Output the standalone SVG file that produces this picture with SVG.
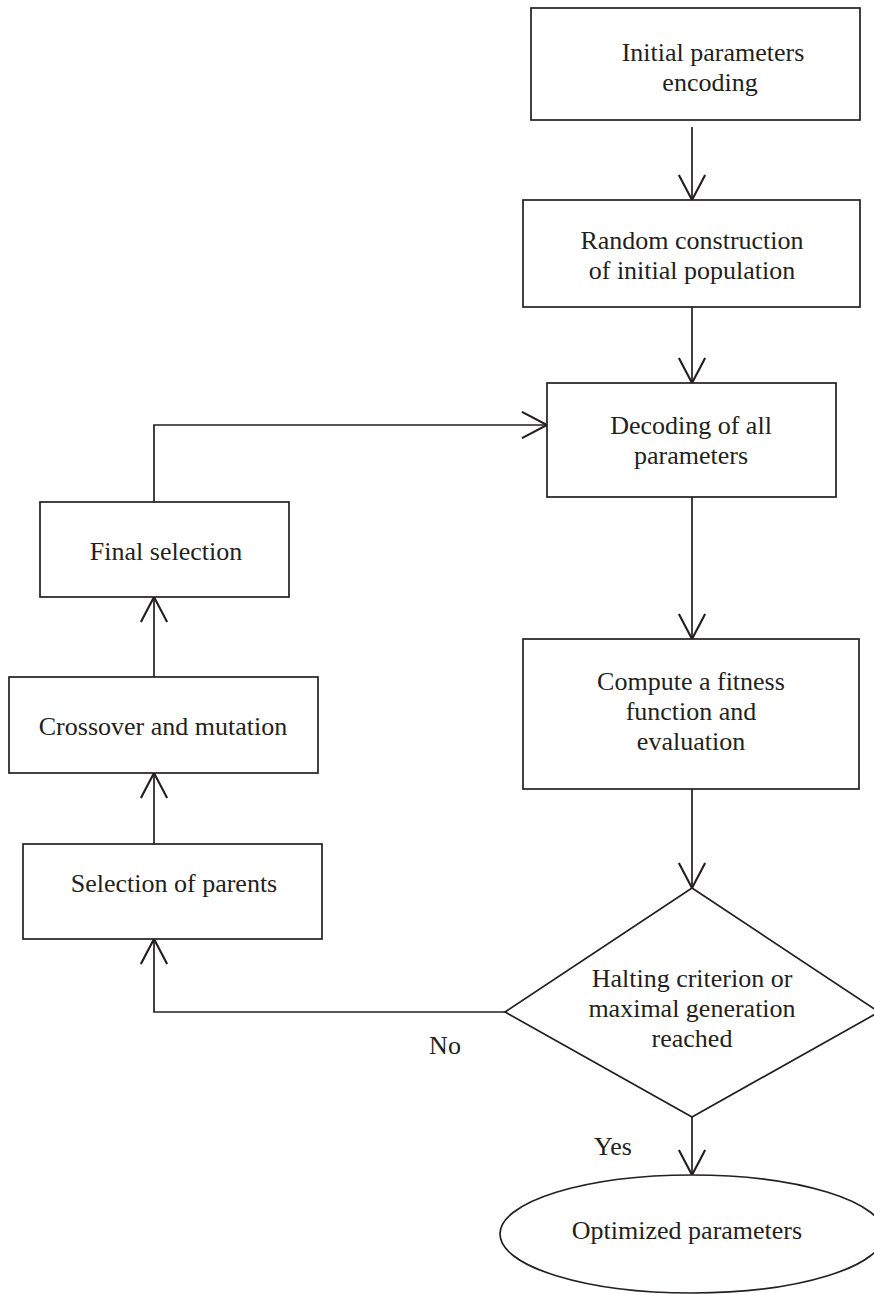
<svg xmlns="http://www.w3.org/2000/svg" width="874" height="1294" viewBox="0 0 874 1294">
<style>
.n{fill:#ffffff;stroke:#231f20;stroke-width:1.7}
.c{fill:none;stroke:#231f20;stroke-width:1.7}
text{font-family:"Liberation Serif","Times New Roman",serif;font-size:26px;fill:#231f20;text-anchor:middle}
</style>
<defs>
<marker id="ah" markerUnits="userSpaceOnUse" markerWidth="30" markerHeight="30" viewBox="-22 -12 24 24" refX="0" refY="0" orient="auto">
<path d="M-20,-10.5 L0,0 L-20,10.5" fill="none" stroke="#231f20" stroke-width="1.7"/>
</marker>
</defs>
<rect width="874" height="1294" fill="#ffffff"/>
<g id="connectors">
<line class="c" x1="692" y1="127" x2="692" y2="200" marker-end="url(#ah)"/>
<line class="c" x1="692" y1="307" x2="692" y2="383" marker-end="url(#ah)"/>
<line class="c" x1="692" y1="497" x2="692" y2="639" marker-end="url(#ah)"/>
<line class="c" x1="692" y1="789" x2="692" y2="888" marker-end="url(#ah)"/>
<line class="c" x1="692" y1="1117" x2="692" y2="1175" marker-end="url(#ah)"/>
<polyline class="c" points="505,1012 154,1012 154,939" marker-end="url(#ah)"/>
<line class="c" x1="154" y1="844" x2="154" y2="773" marker-end="url(#ah)"/>
<line class="c" x1="154" y1="677" x2="154" y2="597" marker-end="url(#ah)"/>
<polyline class="c" points="154,502 154,425 547,425" marker-end="url(#ah)"/>
<text x="613" y="1155">Yes</text>
<text x="445" y="1054">No</text>
</g>
<g id="n1">
<rect class="n" x="531" y="8" width="329" height="112"/>
<text x="713" y="61">Initial parameters</text>
<text x="710" y="91">encoding</text>
</g>
<g id="n2">
<rect class="n" x="523" y="200" width="337" height="107"/>
<text x="692" y="249">Random construction</text>
<text x="692" y="279">of initial population</text>
</g>
<g id="n3">
<rect class="n" x="547" y="383" width="289" height="114"/>
<text x="691" y="434">Decoding of all</text>
<text x="691" y="464">parameters</text>
</g>
<g id="n4">
<rect class="n" x="523" y="639" width="336" height="150"/>
<text x="691" y="690">Compute a fitness</text>
<text x="691" y="720">function and</text>
<text x="691" y="750">evaluation</text>
</g>
<g id="n5">
<polygon class="n" points="692,888 879,1012 692,1117 505,1012"/>
<text x="692" y="987">Halting criterion or</text>
<text x="692" y="1017">maximal generation</text>
<text x="692" y="1047">reached</text>
</g>
<g id="n6">
<ellipse class="n" cx="692" cy="1234" rx="192" ry="59"/>
<text x="687" y="1239">Optimized parameters</text>
</g>
<g id="n7">
<rect class="n" x="40" y="502" width="249" height="95"/>
<text x="166" y="560">Final selection</text>
</g>
<g id="n8">
<rect class="n" x="9" y="677" width="309" height="96"/>
<text x="163" y="735">Crossover and mutation</text>
</g>
<g id="n9">
<rect class="n" x="23" y="844" width="299" height="95"/>
<text x="174" y="892">Selection of parents</text>
</g>
</svg>
